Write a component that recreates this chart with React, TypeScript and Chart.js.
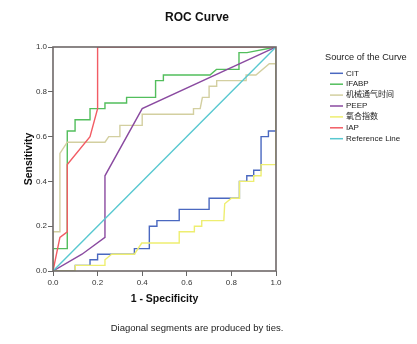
import React, { useEffect, useRef } from "react";
import { Chart, registerables } from "chart.js";

Chart.register(...registerables);

const seriesNames = ["CIT", "IFABP", "机械通气时间", "PEEP", "氧合指数", "IAP", "Reference Line"];
const seriesColors = ["#4a68c0", "#52be5c", "#d3cfa0", "#8a4aa0", "#eeee70", "#f25c64", "#58c8d0"];

const citX = [0, 0.1, 0.1, 0.166, 0.166, 0.2, 0.2, 0.365, 0.365, 0.432, 0.432, 0.466, 0.466, 0.566, 0.566, 0.7, 0.7, 0.836, 0.836, 0.869, 0.869, 0.9, 0.9, 0.933, 0.933, 0.966, 0.966, 1, 1];
const citY = [0, 0, 0.025, 0.025, 0.05, 0.05, 0.075, 0.075, 0.1, 0.1, 0.2, 0.2, 0.225, 0.225, 0.275, 0.275, 0.325, 0.325, 0.4, 0.4, 0.425, 0.425, 0.45, 0.45, 0.6, 0.6, 0.625, 0.625, 1];

const ifabpX = [0, 0, 0.064, 0.064, 0.099, 0.099, 0.166, 0.166, 0.233, 0.233, 0.33, 0.33, 0.46, 0.46, 0.495, 0.495, 0.704, 0.733, 0.834, 0.834, 0.87, 1];
const ifabpY = [0, 0.1, 0.1, 0.625, 0.625, 0.675, 0.675, 0.725, 0.725, 0.75, 0.75, 0.775, 0.775, 0.85, 0.85, 0.875, 0.875, 0.9, 0.9, 0.975, 0.975, 1];

const ventX = [0, 0, 0.031, 0.031, 0.064, 0.233, 0.25, 0.3, 0.3, 0.4, 0.4, 0.63, 0.63, 0.66, 0.67, 0.7, 0.7, 0.734, 0.734, 0.866, 0.866, 0.91, 0.97, 1, 1];
const ventY = [0, 0.175, 0.175, 0.525, 0.575, 0.575, 0.6, 0.6, 0.65, 0.65, 0.7, 0.7, 0.725, 0.725, 0.775, 0.775, 0.825, 0.825, 0.85, 0.85, 0.875, 0.875, 0.925, 0.925, 1];

const peepX = [0, 0.13, 0.233, 0.233, 0.4, 1];
const peepY = [0, 0.075, 0.15, 0.425, 0.725, 1];

const oxyX = [0, 0.1, 0.1, 0.233, 0.233, 0.263, 0.365, 0.398, 0.566, 0.566, 0.634, 0.634, 0.667, 0.667, 0.766, 0.77, 0.8, 0.836, 0.836, 0.9, 0.9, 0.933, 0.933, 1, 1];
const oxyY = [0, 0, 0.025, 0.025, 0.05, 0.075, 0.075, 0.125, 0.125, 0.175, 0.175, 0.2, 0.2, 0.225, 0.225, 0.3, 0.325, 0.325, 0.4, 0.4, 0.425, 0.425, 0.475, 0.475, 1];

const iapX = [0, 0.031, 0.064, 0.064, 0.166, 0.2, 0.2, 1];
const iapY = [0, 0.15, 0.175, 0.475, 0.6, 0.725, 1, 1];

const refX = [0, 1];
const refY = [0, 1];

const allX = [citX, ifabpX, ventX, peepX, oxyX, iapX, refX];
const allY = [citY, ifabpY, ventY, peepY, oxyY, iapY, refY];

const tickValues = [0, 0.2, 0.4, 0.6, 0.8, 1.0];

const titleText = "ROC Curve";
const xTitleText = "1 - Specificity";
const yTitleText = "Sensitivity";
const footText = "Diagonal segments are produced by ties.";
const legendTitleText = "Source of the Curve";

const FONT = '"Liberation Sans", Arial, "Noto Sans CJK SC", sans-serif';

const decorPlugin = {
  id: "decor",
  afterDatasetsDraw(chart: any) {
    const { ctx, chartArea } = chart;
    ctx.save();
    ctx.strokeStyle = "#6e6868";
    ctx.lineWidth = 1.6;
    ctx.strokeRect(chartArea.left, chartArea.top, chartArea.right - chartArea.left, chartArea.bottom - chartArea.top);
    ctx.restore();
  },
  afterDraw(chart: any) {
    const { ctx, chartArea } = chart;
    ctx.save();
    ctx.fillStyle = "#111";
    ctx.textAlign = "center";
    ctx.textBaseline = "middle";
    ctx.font = `bold 12px ${FONT}`;
    ctx.fillText(titleText, 197, 18);
    ctx.font = `bold 10.5px ${FONT}`;
    ctx.fillText(xTitleText, (chartArea.left + chartArea.right) / 2, 299);
    ctx.save();
    ctx.translate(29, (chartArea.top + chartArea.bottom) / 2);
    ctx.rotate(-Math.PI / 2);
    ctx.fillText(yTitleText, 0, 0);
    ctx.restore();
    ctx.font = `9.5px ${FONT}`;
    ctx.fillStyle = "#222";
    ctx.fillText(footText, 197, 328);
    // legend
    ctx.textAlign = "left";
    ctx.font = `9.2px ${FONT}`;
    ctx.fillStyle = "#222";
    ctx.fillText(legendTitleText, 325, 57);
    ctx.font = `8px ${FONT}`;
    chart.data.datasets.forEach((ds: any, i: number) => {
      const y = 73.3 + i * 10.9;
      ctx.strokeStyle = ds.borderColor;
      ctx.lineWidth = 1.5;
      ctx.beginPath();
      ctx.moveTo(330, y);
      ctx.lineTo(343, y);
      ctx.stroke();
      ctx.fillStyle = "#222";
      ctx.fillText(ds.label, 346, y);
    });
    ctx.restore();
  },
};

export default function App() {
  const ref = useRef<HTMLCanvasElement | null>(null);
  useEffect(() => {
    if (!ref.current) return;
    const datasets = seriesNames.map((name, i) => ({
      label: name,
      data: allX[i].map((x, j) => ({ x, y: allY[i][j] })),
      borderColor: seriesColors[i],
      backgroundColor: seriesColors[i],
      borderWidth: 1.4,
      showLine: true,
      pointRadius: 0,
      fill: false,
      tension: 0,
      order: seriesNames.length - i,
    }));
    const tickCfg = {
      font: { size: 8, family: FONT },
      color: "#333",
      autoSkip: false,
      callback: (v: any) => Number(v).toFixed(1),
    };
    const chart = new Chart(ref.current, {
      type: "scatter",
      data: { datasets },
      options: {
        animation: false,
        responsive: false,
        maintainAspectRatio: false,
        layout: { padding: { left: 0, top: 47, right: 141, bottom: 0 } },
        plugins: { legend: { display: false }, title: { display: false }, tooltip: { enabled: false } },
        scales: {
          x: {
            type: "linear",
            min: 0,
            max: 1,
            afterBuildTicks: (s: any) => { s.ticks = tickValues.map((v) => ({ value: v })); },
            afterFit: (s: any) => { s.height = 73; },
            ticks: { ...tickCfg, padding: 2, maxRotation: 0 },
            grid: { drawOnChartArea: false, drawTicks: true, tickLength: 5, color: "#666", lineWidth: 1 },
            border: { display: false },
          },
          y: {
            type: "linear",
            min: 0,
            max: 1,
            afterBuildTicks: (s: any) => { s.ticks = tickValues.map((v) => ({ value: v })); },
            afterFit: (s: any) => { s.width = 53; },
            ticks: { ...tickCfg, padding: 1 },
            grid: { drawOnChartArea: false, drawTicks: true, tickLength: 5, color: "#666", lineWidth: 1 },
            border: { display: false },
          },
        },
      } as any,
      plugins: [decorPlugin],
    });
    return () => chart.destroy();
  }, []);
  return (
    <div style={{ position: "fixed", left: 0, top: 0, width: 417, height: 344, background: "#fff" }}>
      <canvas ref={ref} width={417} height={344} style={{ display: "block", width: 417, height: 344 }} />
    </div>
  );
}
